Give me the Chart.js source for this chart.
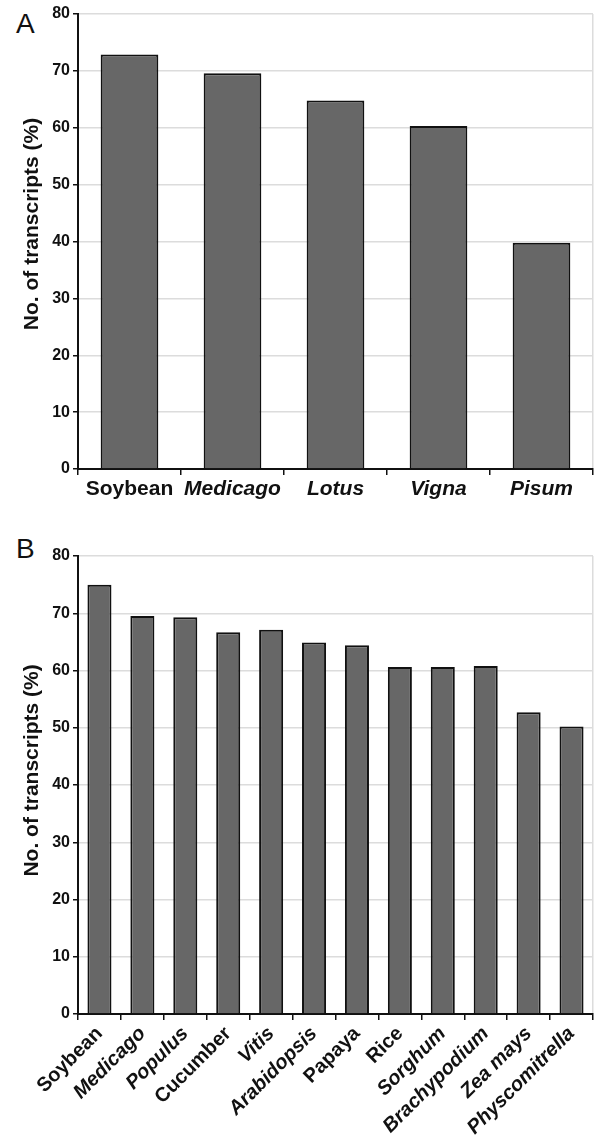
<!DOCTYPE html>
<html>
<head>
<meta charset="utf-8">
<script src="https://cdn.jsdelivr.net/npm/chart.js@4"></script>
<style>
  body { margin: 0; background: #fff; width: 595px; height: 1138px; position: relative; overflow: hidden; }
  canvas { position: absolute; left: 0; }
  .panel { position: absolute; font-family: "Liberation Sans", Arial, sans-serif; font-size: 28px; color: #111; }
</style>
</head>
<body>
<div class="panel" style="left:16px; top:8px;">A</div>
<div class="panel" style="left:16px; top:533px;">B</div>
<canvas id="chartA" width="595" height="530" style="top:0"></canvas>
<canvas id="chartB" width="595" height="608" style="top:530px"></canvas>
<script>
// panel A: legumes
const legumes = ["Soybean", "Medicago", "Lotus", "Vigna", "Pisum"];
const legumeValues = [72.9, 69.6, 64.8, 60.3, 39.8];
const legumeItalic = [false, true, true, true, true];

// panel B: plant species
const species = ["Soybean", "Medicago", "Populus", "Cucumber", "Vitis", "Arabidopsis",
  "Papaya", "Rice", "Sorghum", "Brachypodium", "Zea mays", "Physcomitrella"];
const speciesValues = [75.0, 69.5, 69.3, 66.7, 67.1, 64.9, 64.4, 60.6, 60.6, 60.8, 52.7, 50.2];
const speciesItalic = [false, true, true, false, true, true, false, false, true, true, true, true];

const yTicks = [0, 10, 20, 30, 40, 50, 60, 70, 80];

const FONT = "'Liberation Sans', Arial, sans-serif";
const BAR_FILL = "#676767";
const GRID = "#dcdcdc";

function makeChart(id, labels, values, italic, opts) {
  const ctx = document.getElementById(id).getContext("2d");
  // title sits a little above the middle of the axis in the original
  const titleText = "\u00a0".repeat(opts.titleShift) + "No. of transcripts (%)";
  return new Chart(ctx, {
    type: "bar",
    data: {
      labels: labels,
      datasets: [
        {
          data: values,
          backgroundColor: BAR_FILL,
          borderColor: "#111",
          borderWidth: 2,
          categoryPercentage: 1,
          barPercentage: 0.56,
        },
      ],
    },
    options: {
      responsive: false,
      animation: false,
      layout: { padding: { top: opts.top, right: 2, left: 0, bottom: 0 } },
      plugins: { legend: { display: false }, tooltip: { enabled: false } },
      scales: {
        x: {
          offset: true,
          border: { display: true, color: "#111", width: 2 },
          grid: {
            offset: true,
            drawOnChartArea: true,
            // only the right edge line shows inside the plot
            color: (c) => (c.index === undefined ? GRID : "rgba(0,0,0,0)"),
            tickColor: "#111",
            tickLength: 6,
            lineWidth: 1.5,
          },
          ticks: {
            color: "#111",
            padding: 2,
            minRotation: opts.rotation,
            maxRotation: opts.rotation,
            autoSkip: false,
            font: (c) => ({
              family: FONT,
              size: opts.labelSize,
              weight: "bold",
              style: italic[c.index] ? "italic" : "normal",
            }),
          },
          afterFit: (scale) => {
            scale.height = opts.xHeight;
          },
        },
        y: {
          min: 0,
          max: 80,
          border: { display: true, color: "#111", width: 2 },
          grid: { color: GRID, lineWidth: 1.5, tickColor: "#111", tickLength: 5 },
          afterBuildTicks: (scale) => {
            scale.ticks = yTicks.map((v) => ({ value: v }));
          },
          ticks: {
            color: "#111",
            padding: 3,
            font: { family: FONT, size: 16, weight: "bold" },
          },
          title: {
            display: true,
            text: titleText,
            color: "#111",
            padding: { top: 20, bottom: 0 },
            font: { family: FONT, size: 21, weight: "bold" },
          },
          afterFit: (scale) => {
            scale.width = 78;
          },
        },
      },
    },
  });
}

makeChart("chartA", legumes, legumeValues, legumeItalic, { top: 14, xHeight: 61, rotation: 0, labelSize: 21, titleShift: 6 });
makeChart("chartB", species, speciesValues, speciesItalic, { top: 26, xHeight: 124, rotation: 45, labelSize: 20, titleShift: 5 });
</script>
</body>
</html>
